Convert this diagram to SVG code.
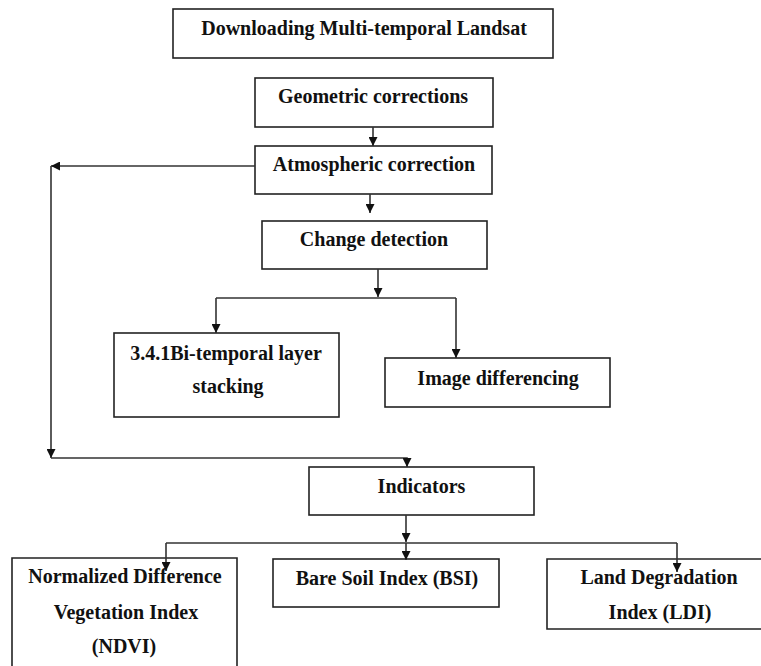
<svg xmlns="http://www.w3.org/2000/svg" width="761" height="666" viewBox="0 0 761 666">
<style>
.box{fill:#fff;stroke:#222;stroke-width:1.6}
.lbl{font-family:"Liberation Serif","Times New Roman",serif;font-weight:bold;font-size:20px;fill:#111;text-anchor:middle}
.con{fill:none;stroke:#333;stroke-width:1.6}
</style>
<defs>
<marker id="ah" viewBox="0 0 10 10" refX="10" refY="5" markerWidth="10" markerHeight="9" markerUnits="userSpaceOnUse" orient="auto">
<path d="M0,0 L10,5 L0,10 z" fill="#111"/>
</marker>
</defs>
<rect width="761" height="666" fill="#fff"/>
<g id="download">
<rect class="box" x="173" y="9" width="380" height="49"/>
<text class="lbl" x="364" y="35">Downloading Multi-temporal Landsat</text>
</g>
<g id="geometric">
<rect class="box" x="255" y="78" width="238" height="49"/>
<text class="lbl" x="373" y="103">Geometric corrections</text>
</g>
<g id="atmospheric">
<rect class="box" x="255" y="146" width="237" height="48"/>
<text class="lbl" x="374" y="171">Atmospheric correction</text>
</g>
<g id="change">
<rect class="box" x="262" y="221" width="225" height="48"/>
<text class="lbl" x="374" y="246">Change detection</text>
</g>
<g id="bitemporal">
<rect class="box" x="114" y="333" width="225" height="84"/>
<text class="lbl" x="226" y="360">3.4.1Bi-temporal layer</text>
<text class="lbl" x="228" y="393">stacking</text>
</g>
<g id="imagediff">
<rect class="box" x="385" y="358" width="225" height="49"/>
<text class="lbl" x="498" y="385">Image differencing</text>
</g>
<g id="indicators">
<rect class="box" x="309" y="467" width="225" height="48"/>
<text class="lbl" x="421.5" y="493">Indicators</text>
</g>
<g id="ndvi">
<path class="box" d="M12,666 V558 H237 V666"/>
<text class="lbl" x="125" y="583">Normalized Difference</text>
<text class="lbl" x="126" y="619">Vegetation Index</text>
<text class="lbl" x="124" y="653">(NDVI)</text>
</g>
<g id="bsi">
<rect class="box" x="273" y="559" width="226" height="48"/>
<text class="lbl" x="387" y="585">Bare Soil Index (BSI)</text>
</g>
<g id="ldi">
<path class="box" d="M761,559 H547 V629 H761"/>
<text class="lbl" x="659" y="584">Land Degradation</text>
<text class="lbl" x="660" y="619">Index (LDI)</text>
</g>
<g id="connectors">
<path class="con" d="M373,127 V146" marker-end="url(#ah)"/>
<path class="con" d="M255,166 H51" marker-end="url(#ah)"/>
<path class="con" d="M51,166 V458" marker-end="url(#ah)"/>
<path class="con" d="M51,458 H407 V467" marker-end="url(#ah)"/>
<path class="con" d="M370,194 V213" marker-end="url(#ah)"/>
<path class="con" d="M378,269 V297" marker-end="url(#ah)"/>
<path class="con" d="M216,298 H456"/>
<path class="con" d="M216,298 V333" marker-end="url(#ah)"/>
<path class="con" d="M456,298 V358" marker-end="url(#ah)"/>
<path class="con" d="M406,515 V542" marker-end="url(#ah)"/>
<path class="con" d="M166,543 H677"/>
<path class="con" d="M406,543 V560" marker-end="url(#ah)"/>
<path class="con" d="M166,543 V571" marker-end="url(#ah)"/>
<path class="con" d="M677,543 V572" marker-end="url(#ah)"/>
</g>
</svg>
